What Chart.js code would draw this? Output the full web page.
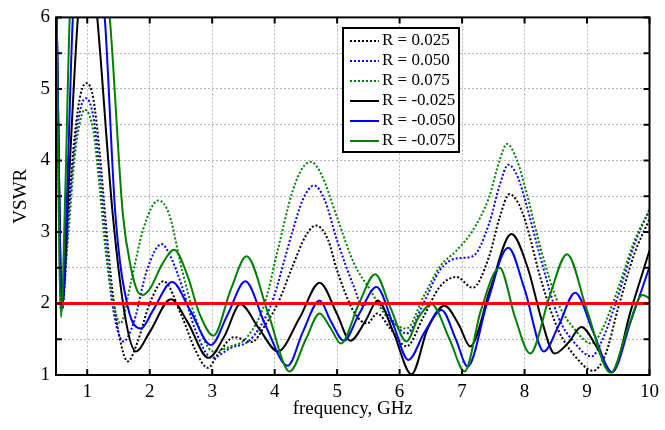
<!DOCTYPE html>
<html>
<head>
<meta charset="utf-8">
<script src="https://cdn.jsdelivr.net/npm/chart.js@4.4.1/dist/chart.umd.min.js"></script>
<style>
  body { margin: 0; background: #fff; }
  canvas { display: block; }
</style>
</head>
<body>
<canvas id="vswr" width="665" height="430"></canvas>
<script>
const seriesLabels = ['R = 0.025', 'R = 0.050', 'R = 0.075', 'R = -0.025', 'R = -0.050', 'R = -0.075'];
const seriesColors = ['#000000', '#0000ff', '#008000', '#000000', '#0000ff', '#008000'];

// R = 0.025 (dotted black)
const freqP025 = [0.5, 0.59, 0.7, 0.8, 0.9, 1.0, 1.1, 1.2, 1.3, 1.4, 1.5, 1.65, 1.8, 2.0, 2.22, 2.52, 2.73, 2.93, 3.1, 3.35, 3.63, 3.85, 4.05, 4.3, 4.5, 4.66, 4.85, 5.0, 5.27, 5.48, 5.64, 5.85, 6.11, 6.38, 6.64, 6.91, 7.17, 7.43, 7.6, 7.76, 7.9, 8.01, 8.28, 8.54, 8.81, 9.1, 9.3, 9.49, 9.76, 10];
const vswrP025 = [6.6, 1.97, 3.3, 4.35, 4.95, 5.08, 4.85, 4.1, 3.1, 2.2, 1.6, 1.19, 1.45, 2.0, 2.31, 1.81, 1.35, 1.10, 1.3, 1.53, 1.46, 1.7, 2.0, 2.55, 2.95, 3.09, 2.9, 2.46, 1.88, 1.72, 1.86, 1.65, 1.40, 1.81, 2.23, 2.37, 2.22, 2.65, 3.2, 3.53, 3.4, 3.16, 2.28, 1.63, 1.26, 1.06, 1.3, 1.91, 2.70, 3.18];

// R = 0.050 (dotted blue)
const freqP050 = [0.5, 0.6, 0.7, 0.8, 0.9, 0.98, 1.1, 1.2, 1.3, 1.4, 1.58, 1.75, 1.95, 2.19, 2.31, 2.52, 2.73, 3.0, 3.3, 3.58, 3.75, 3.95, 4.29, 4.45, 4.63, 4.8, 5.0, 5.27, 5.4, 5.64, 5.85, 6.11, 6.38, 6.64, 6.91, 7.17, 7.43, 7.6, 7.74, 7.9, 8.01, 8.28, 8.54, 8.81, 9.07, 9.25, 9.49, 9.76, 10];
const vswrP050 = [6.6, 1.92, 3.2, 4.2, 4.75, 4.87, 4.6, 3.8, 2.8, 2.0, 1.47, 1.75, 2.45, 2.83, 2.70, 2.23, 1.63, 1.24, 1.38, 1.47, 1.65, 2.0, 3.02, 3.45, 3.65, 3.45, 2.88, 2.23, 1.98, 2.0, 1.8, 1.58, 2.0, 2.46, 2.63, 2.66, 3.11, 3.65, 3.94, 3.75, 3.44, 2.56, 1.81, 1.44, 1.26, 1.5, 2.09, 2.83, 3.32];

// R = 0.075 (dotted green)
const freqP075 = [0.5, 0.58, 0.7, 0.8, 0.9, 0.96, 1.1, 1.2, 1.3, 1.4, 1.53, 1.7, 1.9, 2.14, 2.31, 2.52, 2.73, 3.02, 3.3, 3.55, 3.84, 4.05, 4.29, 4.45, 4.58, 4.75, 5.0, 5.27, 5.53, 5.8, 6.11, 6.38, 6.64, 6.91, 7.17, 7.43, 7.6, 7.72, 7.88, 8.01, 8.28, 8.54, 8.81, 9.07, 9.25, 9.49, 9.76, 10];
const vswrP075 = [6.6, 1.9, 3.0, 4.05, 4.6, 4.71, 4.4, 3.6, 2.7, 2.1, 1.72, 2.3, 3.05, 3.44, 3.25, 2.46, 1.81, 1.33, 1.40, 1.52, 2.0, 2.75, 3.58, 3.9, 3.98, 3.8, 3.20, 2.56, 2.19, 1.81, 1.65, 2.09, 2.51, 2.74, 3.02, 3.48, 4.0, 4.23, 4.0, 3.62, 2.70, 2.0, 1.63, 1.44, 1.65, 2.19, 2.88, 3.30];

// R = -0.025 (solid black)
const freqN025 = [0.5, 0.6, 0.7, 0.85, 1.0, 1.16, 1.41, 1.62, 1.78, 2.0, 2.34, 2.6, 2.94, 3.2, 3.45, 3.75, 4.05, 4.4, 4.72, 5.0, 5.21, 5.45, 5.65, 5.9, 6.19, 6.45, 6.72, 6.95, 7.13, 7.45, 7.79, 8.05, 8.28, 8.48, 8.7, 8.91, 9.15, 9.4, 9.7, 10];
const vswrN025 = [6.6, 1.97, 3.6, 6.0, 7.3, 6.0, 3.23, 1.75, 1.33, 1.6, 2.06, 1.75, 1.24, 1.55, 1.99, 1.65, 1.33, 1.8, 2.29, 1.85, 1.48, 1.75, 2.04, 1.6, 1.01, 1.65, 1.97, 1.7, 1.40, 2.2, 2.97, 2.5, 1.75, 1.30, 1.45, 1.67, 1.4, 1.04, 1.9, 2.74];

// R = -0.050 (solid blue)
const freqN050 = [0.5, 0.6, 0.68, 0.77, 1.02, 1.28, 1.45, 1.65, 1.86, 2.05, 2.36, 2.65, 2.98, 3.25, 3.53, 3.85, 4.21, 4.45, 4.72, 4.9, 5.11, 5.35, 5.63, 5.9, 6.14, 6.4, 6.67, 6.9, 7.09, 7.4, 7.74, 8.0, 8.31, 8.55, 8.81, 9.1, 9.4, 9.7, 10];
const vswrN050 = [6.6, 1.93, 3.6, 6.0, 7.8, 6.0, 3.25, 1.95, 1.65, 1.9, 2.30, 1.9, 1.42, 1.85, 2.31, 1.7, 1.13, 1.6, 2.04, 1.75, 1.48, 1.85, 2.23, 1.7, 1.21, 1.6, 1.91, 1.5, 1.12, 2.0, 2.78, 2.2, 1.33, 1.7, 2.15, 1.6, 1.04, 1.75, 2.51];

// R = -0.075 (solid green)
const freqN075 = [0.5, 0.58, 0.65, 0.72, 1.04, 1.36, 1.57, 1.7, 1.8, 1.89, 2.0, 2.2, 2.39, 2.6, 2.8, 3.02, 3.3, 3.55, 3.9, 4.24, 4.5, 4.72, 4.9, 5.06, 5.35, 5.61, 5.85, 6.11, 6.3, 6.51, 6.8, 7.04, 7.3, 7.6, 7.85, 8.09, 8.4, 8.68, 9.0, 9.38, 9.65, 9.89, 10];
const vswrN075 = [6.6, 1.81, 3.6, 6.0, 8.3, 6.0, 3.25, 2.5, 2.18, 2.12, 2.2, 2.55, 2.75, 2.4, 1.85, 1.55, 2.2, 2.66, 1.85, 1.05, 1.5, 1.86, 1.65, 1.44, 2.0, 2.41, 1.95, 1.47, 1.8, 1.99, 1.5, 1.05, 1.9, 2.50, 1.8, 1.30, 2.1, 2.69, 1.9, 1.03, 1.65, 2.12, 2.07];

const limitFreq = [0.5, 10];
const limitVswr = [2, 2];

const xTicks = [1, 2, 3, 4, 5, 6, 7, 8, 9, 10];
const yTicks = [1, 1.5, 2, 2.5, 3, 3.5, 4, 4.5, 5, 5.5, 6];

const serif = "'Liberation Serif', 'Times New Roman', serif";

function pairs(xs, ys) {
    return xs.map((x, i) => ({ x: x, y: ys[i] }));
}

const seriesData = [
    [freqP025, vswrP025], [freqP050, vswrP050], [freqP075, vswrP075],
    [freqN025, vswrN025], [freqN050, vswrN050], [freqN075, vswrN075]
];

const datasets = seriesData.map((s, i) => ({
    label: seriesLabels[i],
    data: pairs(s[0], s[1]),
    borderColor: seriesColors[i],
    borderWidth: 2,
    borderDash: i < 3 ? [2, 2] : [],
    pointRadius: 0,
    cubicInterpolationMode: 'monotone',
    order: 6 - i
}));

datasets.push({
    label: '',
    data: pairs(limitFreq, limitVswr),
    borderColor: '#ff0000',
    borderWidth: 3,
    pointRadius: 0,
    order: 0
});

// box, inward ticks and the legend box
const framePlugin = {
    id: 'frame',
    afterDatasetsDraw(chart) {
        const ctx = chart.ctx;
        const a = chart.chartArea;
        const x = chart.scales.x, y = chart.scales.y;
        ctx.save();
        ctx.strokeStyle = '#000';
        ctx.lineWidth = 2;
        ctx.setLineDash([]);
        ctx.strokeRect(a.left, a.top, a.right - a.left, a.bottom - a.top);
        ctx.beginPath();
        xTicks.forEach(v => {
            const px = x.getPixelForValue(v);
            ctx.moveTo(px, a.bottom); ctx.lineTo(px, a.bottom - 6);
            ctx.moveTo(px, a.top); ctx.lineTo(px, a.top + 6);
        });
        yTicks.forEach(v => {
            const py = y.getPixelForValue(v);
            ctx.moveTo(a.left, py); ctx.lineTo(a.left + 6, py);
            ctx.moveTo(a.right, py); ctx.lineTo(a.right - 6, py);
        });
        ctx.stroke();

        // legend
        const lx = 343, ly = 28, lw = 116, lh = 124;
        ctx.fillStyle = '#fff';
        ctx.fillRect(lx, ly, lw, lh);
        ctx.strokeRect(lx, ly, lw, lh);
        ctx.font = '17px ' + serif;
        ctx.textBaseline = 'middle';
        seriesLabels.forEach((lab, i) => {
            const ry = ly + 13 + i * 20;
            ctx.strokeStyle = seriesColors[i];
            ctx.setLineDash(i < 3 ? [2, 2] : []);
            ctx.beginPath();
            ctx.moveTo(lx + 7, ry);
            ctx.lineTo(lx + 36, ry);
            ctx.stroke();
            ctx.fillStyle = '#000';
            ctx.fillText(lab, lx + 39, ry);
        });
        ctx.restore();
    }
};

new Chart(document.getElementById('vswr'), {
    type: 'line',
    data: { datasets: datasets },
    options: {
        responsive: false,
        animation: false,
        devicePixelRatio: 1,
        layout: { padding: { top: 16, right: 10, left: 0, bottom: 0 } },
        plugins: { legend: { display: false }, tooltip: { enabled: false } },
        scales: {
            x: {
                type: 'linear',
                min: 0.5,
                max: 10,
                afterBuildTicks: s => { s.ticks = xTicks.map(v => ({ value: v })); },
                afterFit: s => { s.height = 55; },
                ticks: { color: '#000', font: { family: serif, size: 19 }, padding: 6, maxRotation: 0, autoSkip: false },
                grid: { color: '#b4b4b4', lineWidth: 1, drawTicks: false },
                border: { display: false, dash: [2, 2] },
                title: { display: true, text: 'frequency, GHz', color: '#000', font: { family: serif, size: 19 }, padding: { top: 4, bottom: 10 } }
            },
            y: {
                min: 1,
                max: 6,
                afterBuildTicks: s => { s.ticks = yTicks.map(v => ({ value: v })); },
                afterFit: s => { s.width = 56; },
                ticks: {
                    color: '#000', font: { family: serif, size: 19 }, padding: 6,
                    callback: v => Number.isInteger(v) ? String(v) : ''
                },
                grid: { color: '#b4b4b4', lineWidth: 1, drawTicks: false },
                border: { display: false, dash: [2, 2] },
                title: { display: true, text: 'VSWR', color: '#000', font: { family: serif, size: 19 }, padding: { top: 10, bottom: 4 } }
            }
        }
    },
    plugins: [framePlugin]
});
</script>
</body>
</html>
